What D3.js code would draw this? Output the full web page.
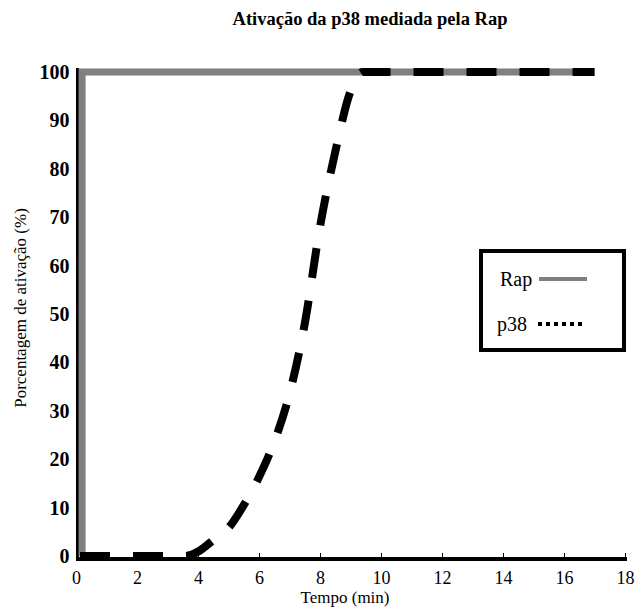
<!DOCTYPE html>
<html>
<head>
<meta charset="utf-8">
<script src="https://cdn.jsdelivr.net/npm/d3@7"></script>
<style>
  html, body { margin: 0; padding: 0; background: #fff; }
  svg { display: block; }
  svg text { font-family: "Liberation Serif", "Times New Roman", serif; fill: #000; }
</style>
</head>
<body>
<svg id="chart" width="637" height="609"></svg>
<script>
// Time course (min) and activation (%) for each kinase
const rapTime = [0.2, 0.2, 17];
const rapValue = [0, 100, 100];

const p38Time = [0, 2, 3.6, 4, 4.5, 5, 5.5, 6, 6.5, 7, 7.5, 8, 8.5, 9, 9.4, 10, 12, 14, 16, 17];
const p38Value = [0, 0, 0, 0.9, 3.3, 5.8, 10.5, 16.3, 23.6, 33.5, 48, 68, 83.5, 96, 100, 100, 100, 100, 100, 100];

const xTicks = [0, 2, 4, 6, 8, 10, 12, 14, 16, 18];
const yTicks = [0, 10, 20, 30, 40, 50, 60, 70, 80, 90, 100];

const svg = d3.select("#chart");

const x = d3.scaleLinear().domain([0, 18]).range([76, 625]);
const y = d3.scaleLinear().domain([0, 100]).range([556, 72]);

// Title
svg.append("text")
  .attr("x", 370).attr("y", 25)
  .attr("text-anchor", "middle")
  .style("font-weight", "bold")
  .style("font-size", "18.5px")
  .text("Ativação da p38 mediada pela Rap");

// Y axis
const yAxis = svg.append("g")
  .attr("transform", `translate(${x(0) + 1.5},0)`)
  .call(d3.axisLeft(y).tickValues(yTicks).tickSize(0).tickPadding(8))
  .attr("font-family", null).attr("font-size", null);
yAxis.select(".domain").attr("stroke", "#000").attr("stroke-width", 3)
  .attr("d", `M0,${y(100) - 4}V${y(0) + 5}`);
yAxis.selectAll(".tick text")
  .style("font-size", "20px").style("font-weight", "bold");

// X axis
const xAxis = svg.append("g")
  .attr("transform", `translate(0,${y(0) + 3})`)
  .call(d3.axisBottom(x).tickValues(xTicks).tickSize(-6).tickPadding(12))
  .attr("font-family", null).attr("font-size", null);
xAxis.select(".domain").attr("stroke", "#000").attr("stroke-width", 4)
  .attr("d", `M${x(0)},0H${x(18) + 2}`);
xAxis.selectAll(".tick line").attr("stroke", "#000").attr("stroke-width", 1);
xAxis.selectAll(".tick text").style("font-size", "18px");

// Axis titles
svg.append("text")
  .attr("x", 345).attr("y", 603)
  .attr("text-anchor", "middle")
  .style("font-size", "17px")
  .text("Tempo (min)");

svg.append("text")
  .attr("transform", `translate(26,308) rotate(-90)`)
  .attr("text-anchor", "middle")
  .style("font-size", "17px")
  .text("Porcentagem de ativação (%)");

// Series lines
const line = d3.line().x(d => x(d[0])).y(d => y(d[1]));

svg.append("path")
  .datum(d3.zip(rapTime, rapValue))
  .attr("fill", "none")
  .attr("stroke", "#808080")
  .attr("stroke-width", 7)
  .attr("d", line);

svg.append("path")
  .datum(d3.zip(p38Time, p38Value))
  .attr("fill", "none")
  .attr("stroke", "#000")
  .attr("stroke-width", 8)
  .attr("stroke-dasharray", "30,23")
  .attr("stroke-dashoffset", -4)
  .attr("d", line.curve(d3.curveMonotoneX));

// Legend
const legend = svg.append("g");
legend.append("rect")
  .attr("x", 481).attr("y", 251).attr("width", 143).attr("height", 99)
  .attr("fill", "#fff").attr("stroke", "#000").attr("stroke-width", 4);
legend.append("text").attr("x", 500).attr("y", 286).style("font-size", "20px").text("Rap");
legend.append("line")
  .attr("x1", 539).attr("x2", 587).attr("y1", 279).attr("y2", 279)
  .attr("stroke", "#808080").attr("stroke-width", 4);
legend.append("text").attr("x", 497).attr("y", 331).style("font-size", "20px").text("p38");
legend.append("line")
  .attr("x1", 538).attr("x2", 586).attr("y1", 324).attr("y2", 324)
  .attr("stroke", "#000").attr("stroke-width", 4)
  .attr("stroke-dasharray", "4,4");
</script>
</body>
</html>
